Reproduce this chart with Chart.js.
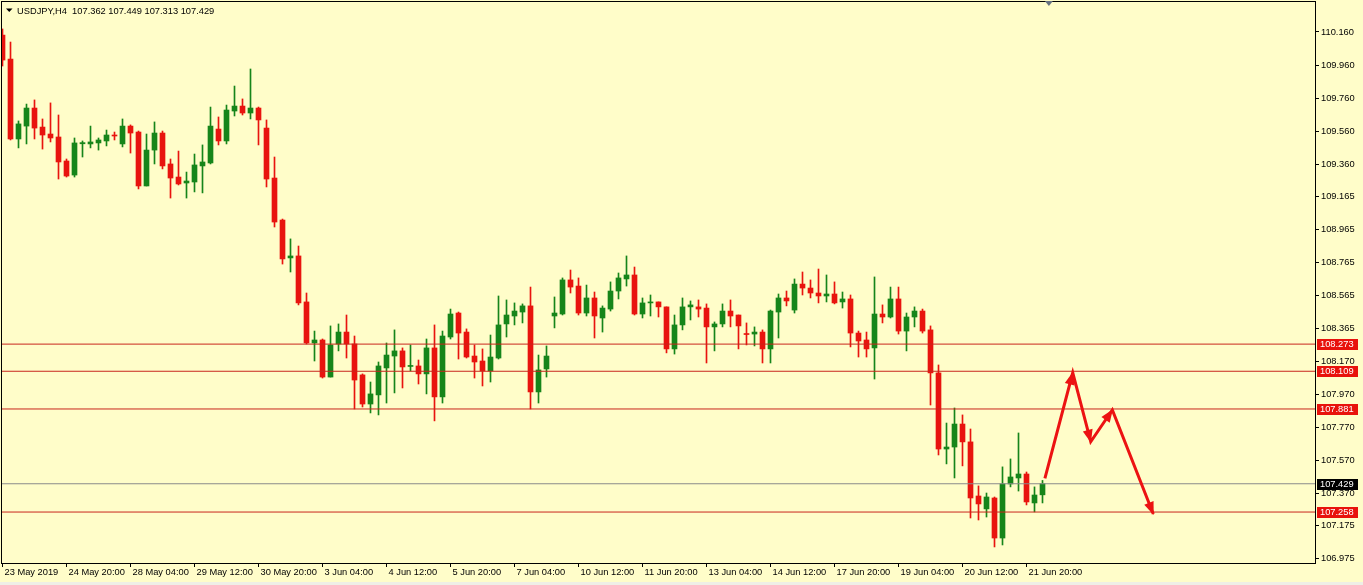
<!DOCTYPE html>
<html>
<head>
<meta charset="utf-8">
<script src="https://cdn.jsdelivr.net/npm/chart.js@4.4.1/dist/chart.umd.min.js"></script>
<style>
  html, body { margin: 0; padding: 0; background: #efefe6; }
  #wrap { width: 1363px; height: 582px; background: #fffdc9; }
</style>
</head>
<body>
<div id="wrap"><canvas id="chart" width="1363" height="582"></canvas></div>
<script>
// USDJPY H4 candles (index 0 = 23 May 2019 12:00)
const opens = [
  110.141, 109.996, 109.513, 109.591, 109.700, 109.585, 109.543, 109.525, 109.380, 109.295,
  109.484, 109.483, 109.489, 109.501, 109.537, 109.483, 109.591, 109.555, 109.229, 109.446,
  109.549, 109.362, 109.283, 109.247, 109.253, 109.350, 109.368, 109.573, 109.501, 109.682,
  109.712, 109.670, 109.700, 109.579, 109.277, 109.023, 108.794, 108.806, 108.528, 108.280,
  108.298, 108.074, 108.274, 108.346, 108.274, 108.087, 107.911, 107.966, 108.129, 108.201,
  108.232, 108.138, 108.141, 108.093, 108.250, 107.954, 108.316, 108.461, 108.346, 108.201,
  108.171, 108.111, 108.189, 108.395, 108.443, 108.467, 108.504, 107.984, 108.123, 108.443,
  108.455, 108.661, 108.624, 108.461, 108.552, 108.431, 108.485, 108.594, 108.667, 108.691,
  108.455, 108.522, 108.528, 108.498, 108.244, 108.389, 108.498, 108.498, 108.491, 108.377,
  108.395, 108.473, 108.449, 108.334, 108.334, 108.346, 108.244, 108.467, 108.552, 108.479,
  108.636, 108.612, 108.582, 108.564, 108.576, 108.528, 108.546, 108.340, 108.298, 108.250,
  108.455, 108.437, 108.546, 108.352, 108.437, 108.473, 108.359, 108.099, 107.639, 107.651,
  107.790, 107.682, 107.355, 107.277, 107.343, 107.101, 107.428, 107.464, 107.488, 107.313,
  107.362
];
const highs = [
  110.178, 110.099, 109.622, 109.724, 109.749, 109.634, 109.731, 109.658, 109.392, 109.519,
  109.501, 109.591, 109.519, 109.567, 109.555, 109.634, 109.598, 109.561, 109.543, 109.616,
  109.561, 109.392, 109.440, 109.313, 109.422, 109.477, 109.706, 109.646, 109.718, 109.833,
  109.755, 109.936, 109.706, 109.628, 109.404, 109.029, 108.909, 108.866, 108.582, 108.352,
  108.304, 108.383, 108.395, 108.449, 108.322, 108.093, 108.044, 108.165, 108.280, 108.359,
  108.250, 108.268, 108.177, 108.304, 108.389, 108.352, 108.485, 108.467, 108.365, 108.268,
  108.244, 108.328, 108.564, 108.540, 108.522, 108.516, 108.618, 108.207, 108.262, 108.558,
  108.673, 108.721, 108.673, 108.630, 108.588, 108.504, 108.649, 108.703, 108.806, 108.739,
  108.552, 108.570, 108.528, 108.498, 108.449, 108.552, 108.534, 108.540, 108.516, 108.407,
  108.516, 108.540, 108.449, 108.401, 108.377, 108.359, 108.479, 108.576, 108.594, 108.667,
  108.709, 108.661, 108.727, 108.691, 108.649, 108.588, 108.570, 108.352, 108.346, 108.679,
  108.510, 108.618, 108.618, 108.461, 108.498, 108.485, 108.383, 108.147, 107.796, 107.887,
  107.845, 107.760, 107.416, 107.373, 107.349, 107.531, 107.579, 107.736, 107.500, 107.410,
  107.449
];
const lows = [
  109.954, 109.507, 109.459, 109.483, 109.513, 109.452, 109.495, 109.271, 109.283, 109.283,
  109.404, 109.459, 109.446, 109.471, 109.507, 109.465, 109.428, 109.211, 109.229, 109.362,
  109.332, 109.156, 109.235, 109.156, 109.193, 109.187, 109.362, 109.477, 109.483, 109.652,
  109.658, 109.634, 109.477, 109.223, 108.981, 108.757, 108.709, 108.510, 108.274, 108.171,
  108.068, 108.074, 108.232, 108.189, 107.881, 107.893, 107.857, 107.845, 107.917, 107.978,
  108.008, 108.111, 108.032, 107.972, 107.809, 107.917, 108.304, 108.183, 108.189, 108.068,
  108.020, 108.044, 108.183, 108.316, 108.389, 108.401, 107.881, 107.917, 108.074, 108.371,
  108.449, 108.582, 108.449, 108.443, 108.310, 108.346, 108.473, 108.546, 108.624, 108.449,
  108.431, 108.443, 108.437, 108.220, 108.213, 108.359, 108.419, 108.437, 108.159, 108.232,
  108.377, 108.377, 108.244, 108.268, 108.262, 108.159, 108.159, 108.310, 108.504, 108.461,
  108.570, 108.552, 108.522, 108.528, 108.516, 108.491, 108.256, 108.195, 108.195, 108.062,
  108.401, 108.431, 108.334, 108.232, 108.377, 108.340, 107.905, 107.603, 107.549, 107.464,
  107.537, 107.222, 107.210, 107.228, 107.047, 107.059, 107.410, 107.385, 107.301, 107.259,
  107.313
];
const closes = [
  109.990, 109.513, 109.604, 109.700, 109.579, 109.537, 109.519, 109.374, 109.289, 109.489,
  109.491, 109.495, 109.507, 109.537, 109.531, 109.591, 109.549, 109.229, 109.446, 109.549,
  109.350, 109.277, 109.241, 109.259, 109.356, 109.374, 109.591, 109.501, 109.688, 109.712,
  109.670, 109.700, 109.628, 109.271, 109.011, 108.788, 108.806, 108.522, 108.280, 108.298,
  108.074, 108.268, 108.346, 108.274, 108.056, 107.911, 107.972, 108.141, 108.207, 108.232,
  108.135, 108.141, 108.093, 108.250, 107.954, 108.322, 108.455, 108.340, 108.195, 108.165,
  108.111, 108.195, 108.389, 108.449, 108.473, 108.504, 107.984, 108.117, 108.201, 108.461,
  108.661, 108.618, 108.461, 108.552, 108.443, 108.491, 108.594, 108.673, 108.691, 108.455,
  108.522, 108.528, 108.498, 108.244, 108.389, 108.498, 108.510, 108.485, 108.377, 108.395,
  108.473, 108.443, 108.383, 108.331, 108.346, 108.244, 108.473, 108.552, 108.534, 108.636,
  108.612, 108.582, 108.564, 108.576, 108.522, 108.546, 108.340, 108.292, 108.244, 108.455,
  108.437, 108.546, 108.352, 108.437, 108.473, 108.352, 108.099, 107.639, 107.651, 107.790,
  107.682, 107.343, 107.307, 107.349, 107.101, 107.428, 107.470, 107.488, 107.319, 107.361,
  107.429
];

const xTickIdx = [0, 8, 16, 24, 32, 40, 48, 56, 64, 72, 80, 88, 96, 104, 112, 120, 128];
const xTickLabels = ['23 May 2019', '24 May 20:00', '28 May 04:00', '29 May 12:00', '30 May 20:00',
  '3 Jun 04:00', '4 Jun 12:00', '5 Jun 20:00', '7 Jun 04:00', '10 Jun 12:00', '11 Jun 20:00',
  '13 Jun 04:00', '14 Jun 12:00', '17 Jun 20:00', '19 Jun 04:00', '20 Jun 12:00', '21 Jun 20:00'];
const yTickVals = [110.160, 109.960, 109.760, 109.560, 109.360, 109.165, 108.965, 108.765, 108.565,
  108.365, 108.170, 107.970, 107.770, 107.570, 107.370, 107.175, 106.975];

const levels = [108.273, 108.109, 107.881, 107.258];
const bidPrice = 107.429;
const ohlcTitle = 'USDJPY,H4  107.362 107.449 107.313 107.429';

// hand drawn zig-zag forecast arrow (candle index, price)
const arrowX = [130.3, 133.78, 136.03, 138.73, 143.85];
const arrowY = [107.462, 108.100, 107.683, 107.875, 107.246];

const BULL = '#16851a';
const BEAR = '#e8140e';
const LEVEL = '#c8261c';
const ARROW = '#ec1212';
const FONT = 'Liberation Sans, Arial, sans-serif';

Chart.defaults.font.family = FONT;
Chart.defaults.font.size = 9.3;
Chart.defaults.color = '#000';

const idx = opens.map((_, i) => i);
const candleColors = idx.map(i => closes[i] >= opens[i] ? BULL : BEAR);

const mt4Plugin = {
    id: 'mt4',
    afterDatasetsDraw(chart) {
        // arrow heads on the forecast polyline
        const meta = chart.getDatasetMeta(0);
        const ctx = chart.ctx;
        ctx.save();
        ctx.fillStyle = ARROW;
        for (let k = 1; k < meta.data.length; k++) {
            const p = meta.data[k], q = meta.data[k - 1];
            const a = Math.atan2(p.y - q.y, p.x - q.x);
            const len = 12, half = 5;
            const bx = p.x - Math.cos(a) * len, by = p.y - Math.sin(a) * len;
            ctx.beginPath();
            ctx.moveTo(p.x + Math.cos(a) * 1, p.y + Math.sin(a) * 1);
            ctx.lineTo(bx + Math.sin(a) * half, by - Math.cos(a) * half);
            ctx.lineTo(bx - Math.sin(a) * half, by + Math.cos(a) * half);
            ctx.closePath();
            ctx.fill();
        }
        ctx.restore();
    },
    afterDraw(chart) {
        const ctx = chart.ctx;
        const area = chart.chartArea;
        const y = chart.scales.y;
        ctx.save();
        // frame
        ctx.strokeStyle = '#000';
        ctx.lineWidth = 1;
        ctx.strokeRect(Math.round(area.left) + 0.5, Math.round(area.top) + 0.5,
            Math.round(area.right - area.left), Math.round(area.bottom - area.top));

        // price labels of the lines
        ctx.font = '9.3px ' + FONT;
        ctx.textBaseline = 'middle';
        ctx.textAlign = 'left';
        const tags = levels.map(v => [v, '#e8120c']).concat([[bidPrice, '#000']]);
        tags.forEach(([v, bg]) => {
            const py = Math.round(y.getPixelForValue(v));
            ctx.fillStyle = bg;
            ctx.fillRect(area.right + 2, py - 5, 41, 11);
            ctx.fillStyle = '#fff';
            ctx.fillText(v.toFixed(3), area.right + 5, py + 0.5);
        });

        // header
        ctx.fillStyle = '#000';
        ctx.beginPath();
        ctx.moveTo(6, 8.5); ctx.lineTo(12.5, 8.5); ctx.lineTo(9.25, 12);
        ctx.closePath();
        ctx.fill();
        ctx.textBaseline = 'alphabetic';
        ctx.fillText(ohlcTitle, 17, 13.5);

        // chart shift marker
        const sx = chart.scales.x.getPixelForValue(130.8);
        ctx.fillStyle = '#667281';
        ctx.beginPath();
        ctx.moveTo(sx - 4, area.top); ctx.lineTo(sx + 4, area.top); ctx.lineTo(sx, area.top + 5);
        ctx.closePath();
        ctx.fill();
        ctx.restore();
    }
};

const flat = v => [{ x: -5, y: v }, { x: 175, y: v }];

new Chart(document.getElementById('chart'), {
    type: 'bar',
    data: {
        datasets: [
            {
                type: 'line',
                data: arrowX.map((x, i) => ({ x: x, y: arrowY[i] })),
                borderColor: ARROW,
                borderWidth: 3,
                pointRadius: 0,
                tension: 0,
                order: 0
            },
            ...levels.map(v => ({
                type: 'line',
                data: flat(v),
                borderColor: LEVEL,
                borderWidth: 1,
                pointRadius: 0,
                order: 1
            })),
            {
                type: 'line',
                data: flat(bidPrice),
                borderColor: '#8a8a8a',
                borderWidth: 1,
                pointRadius: 0,
                order: 1
            },
            {
                data: idx.map(i => ({ x: i, y: [opens[i], closes[i]] })),
                backgroundColor: candleColors,
                borderWidth: 0,
                barThickness: 5,
                minBarLength: 1,
                grouped: false,
                order: 2
            },
            {
                data: idx.map(i => ({ x: i, y: [lows[i], highs[i]] })),
                backgroundColor: candleColors,
                borderWidth: 0,
                barThickness: 1,
                minBarLength: 1,
                grouped: false,
                order: 3
            }
        ]
    },
    options: {
        responsive: false,
        animation: false,
        layout: { padding: { left: 1, top: 1, right: 0, bottom: 0 } },
        plugins: { legend: { display: false }, tooltip: { enabled: false } },
        scales: {
            x: {
                type: 'linear',
                min: -0.1875,
                max: 164.0625,
                offset: false,
                grid: { offset: false, drawOnChartArea: false, drawTicks: true, tickLength: 4, color: '#000' },
                border: { color: '#000' },
                afterBuildTicks: s => { s.ticks = xTickIdx.map(v => ({ value: v })); },
                afterFit: s => { s.height = 19; s.paddingLeft = 0; s.paddingRight = 0; },
                ticks: {
                    autoSkip: false,
                    maxRotation: 0,
                    minRotation: 0,
                    align: 'start',
                    labelOffset: 2,
                    padding: 0,
                    callback: (v, i) => xTickLabels[i]
                }
            },
            y: {
                type: 'linear',
                position: 'right',
                min: 106.950,
                max: 110.347,
                beginAtZero: false,
                grid: { drawOnChartArea: false, drawTicks: true, tickLength: 4, color: '#000' },
                border: { color: '#000' },
                afterBuildTicks: s => { s.ticks = yTickVals.map(v => ({ value: v })); },
                afterFit: s => { s.width = 48; s.paddingTop = 0; s.paddingBottom = 0; },
                ticks: {
                    autoSkip: false,
                    padding: 2,
                    callback: v => v.toFixed(3)
                }
            }
        }
    },
    plugins: [mt4Plugin]
});
</script>
</body>
</html>
